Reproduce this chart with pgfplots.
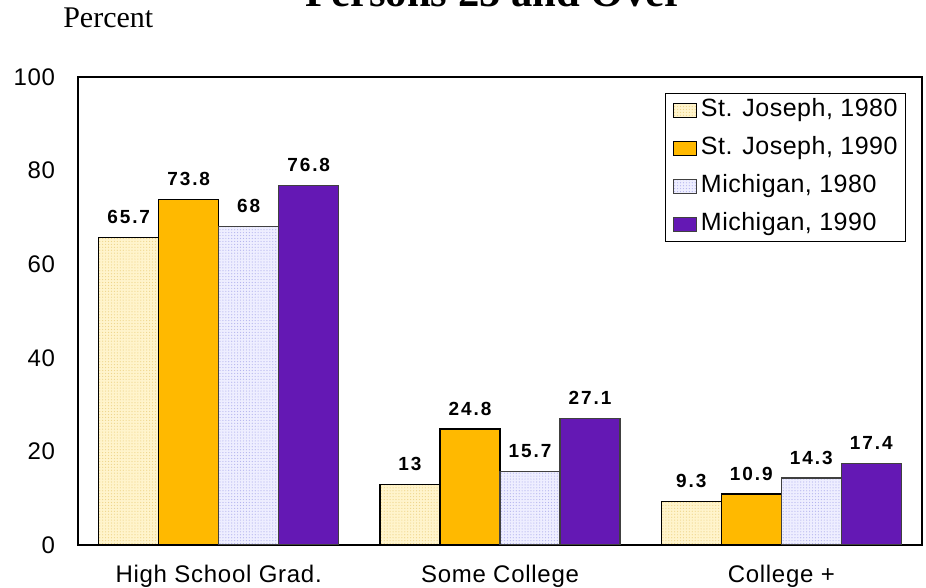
\documentclass[border=0pt]{standalone}
\usepackage{pgfplots}
\pgfplotsset{compat=1.18}
\usepackage{fontspec}
\setmainfont{Liberation Sans}
\newfontfamily\tickfont[LetterSpace=3]{Liberation Sans}
\newfontfamily\labfont[LetterSpace=10]{Liberation Sans}
\newfontfamily\legfont[LetterSpace=2]{Liberation Sans}
\newfontfamily\serif{Liberation Serif}
\usetikzlibrary{patterns.meta}
\definecolor{cream}{HTML}{FFF4CC}
\definecolor{creamdot}{HTML}{EED58A}
\definecolor{gold}{HTML}{FFB900}
\definecolor{lav}{HTML}{EEEEFF}
\definecolor{lavdot}{HTML}{B4B4EE}
\definecolor{purp}{HTML}{6418B4}
\begin{document}
\begin{tikzpicture}[x=0.75pt,y=0.75pt]
\begin{axis}[
  at={(0,0)}, anchor=south west,
  scale only axis, width=633pt, height=351pt,
  ymin=0, ymax=100, ytick={0,20,...,100},
  xmin=-0.5, xmax=2.5,
  xtick=data, xticklabels={High School Grad.,Some College,College +},
  ybar=0pt, bar width=45pt,
  major tick length=0pt,
  axis line style={black, line width=0.8pt},
  tick label style={font=\tickfont\fontsize{18}{20}\selectfont},
  /pgf/number format/assume math mode=true,
  yticklabel style={inner sep=0pt, xshift=-17pt},
  xticklabel style={inner sep=0pt, text height=13pt, yshift=-15pt},
  nodes near coords,
  every node near coord/.append style={font=\labfont\bfseries\fontsize{14.25}{16}\selectfont, inner sep=0pt, anchor=south, yshift=9.75pt},
  legend style={at={(0.981,0.966)}, anchor=north east, draw=black, line width=0.6pt,
    font=\legfont\fontsize{18.75}{20}\selectfont, row sep=10.5pt, column sep=3pt,
    inner xsep=6pt, inner ysep=3.75pt,
    nodes={inner sep=0pt, text height=14pt, text depth=4pt},
    cells={anchor=west}},
  legend image code/.code={\draw[#1, line width=0.6pt] (0pt,-5.25pt) rectangle (17.25pt,5.25pt);},
]
\addplot[fill=cream, draw=black, line width=0.9pt, postaction={pattern={Dots[distance=2.2pt, radius=0.45pt]}, pattern color=creamdot}] coordinates {(0,65.7) (1,13) (2,9.3)};
\addplot[fill=gold, draw=black, line width=0.9pt] coordinates {(0,73.8) (1,24.8) (2,10.9)};
\addplot[fill=lav, draw=black!75, line width=0.9pt, postaction={pattern={Dots[distance=2.2pt, radius=0.45pt]}, pattern color=lavdot}] coordinates {(0,68) (1,15.7) (2,14.3)};
\addplot[fill=purp, draw=black!75, line width=0.9pt] coordinates {(0,76.8) (1,27.1) (2,17.4)};
\legend{{St. Joseph, 1980},{St. Joseph, 1990},{Michigan, 1980},{Michigan, 1990}}
\end{axis}
\path[use as bounding box] (-78,-42) rectangle (848,545);
\node[anchor=base west, inner sep=0pt, font=\serif\bfseries\fontsize{32}{36}\selectfont] at (227,538) {Persons 25 and Over};
\node[anchor=base west, inner sep=0pt, font=\serif\fontsize{22.5}{26}\selectfont] at (-15,517) {Percent};
\end{tikzpicture}
\end{document}
